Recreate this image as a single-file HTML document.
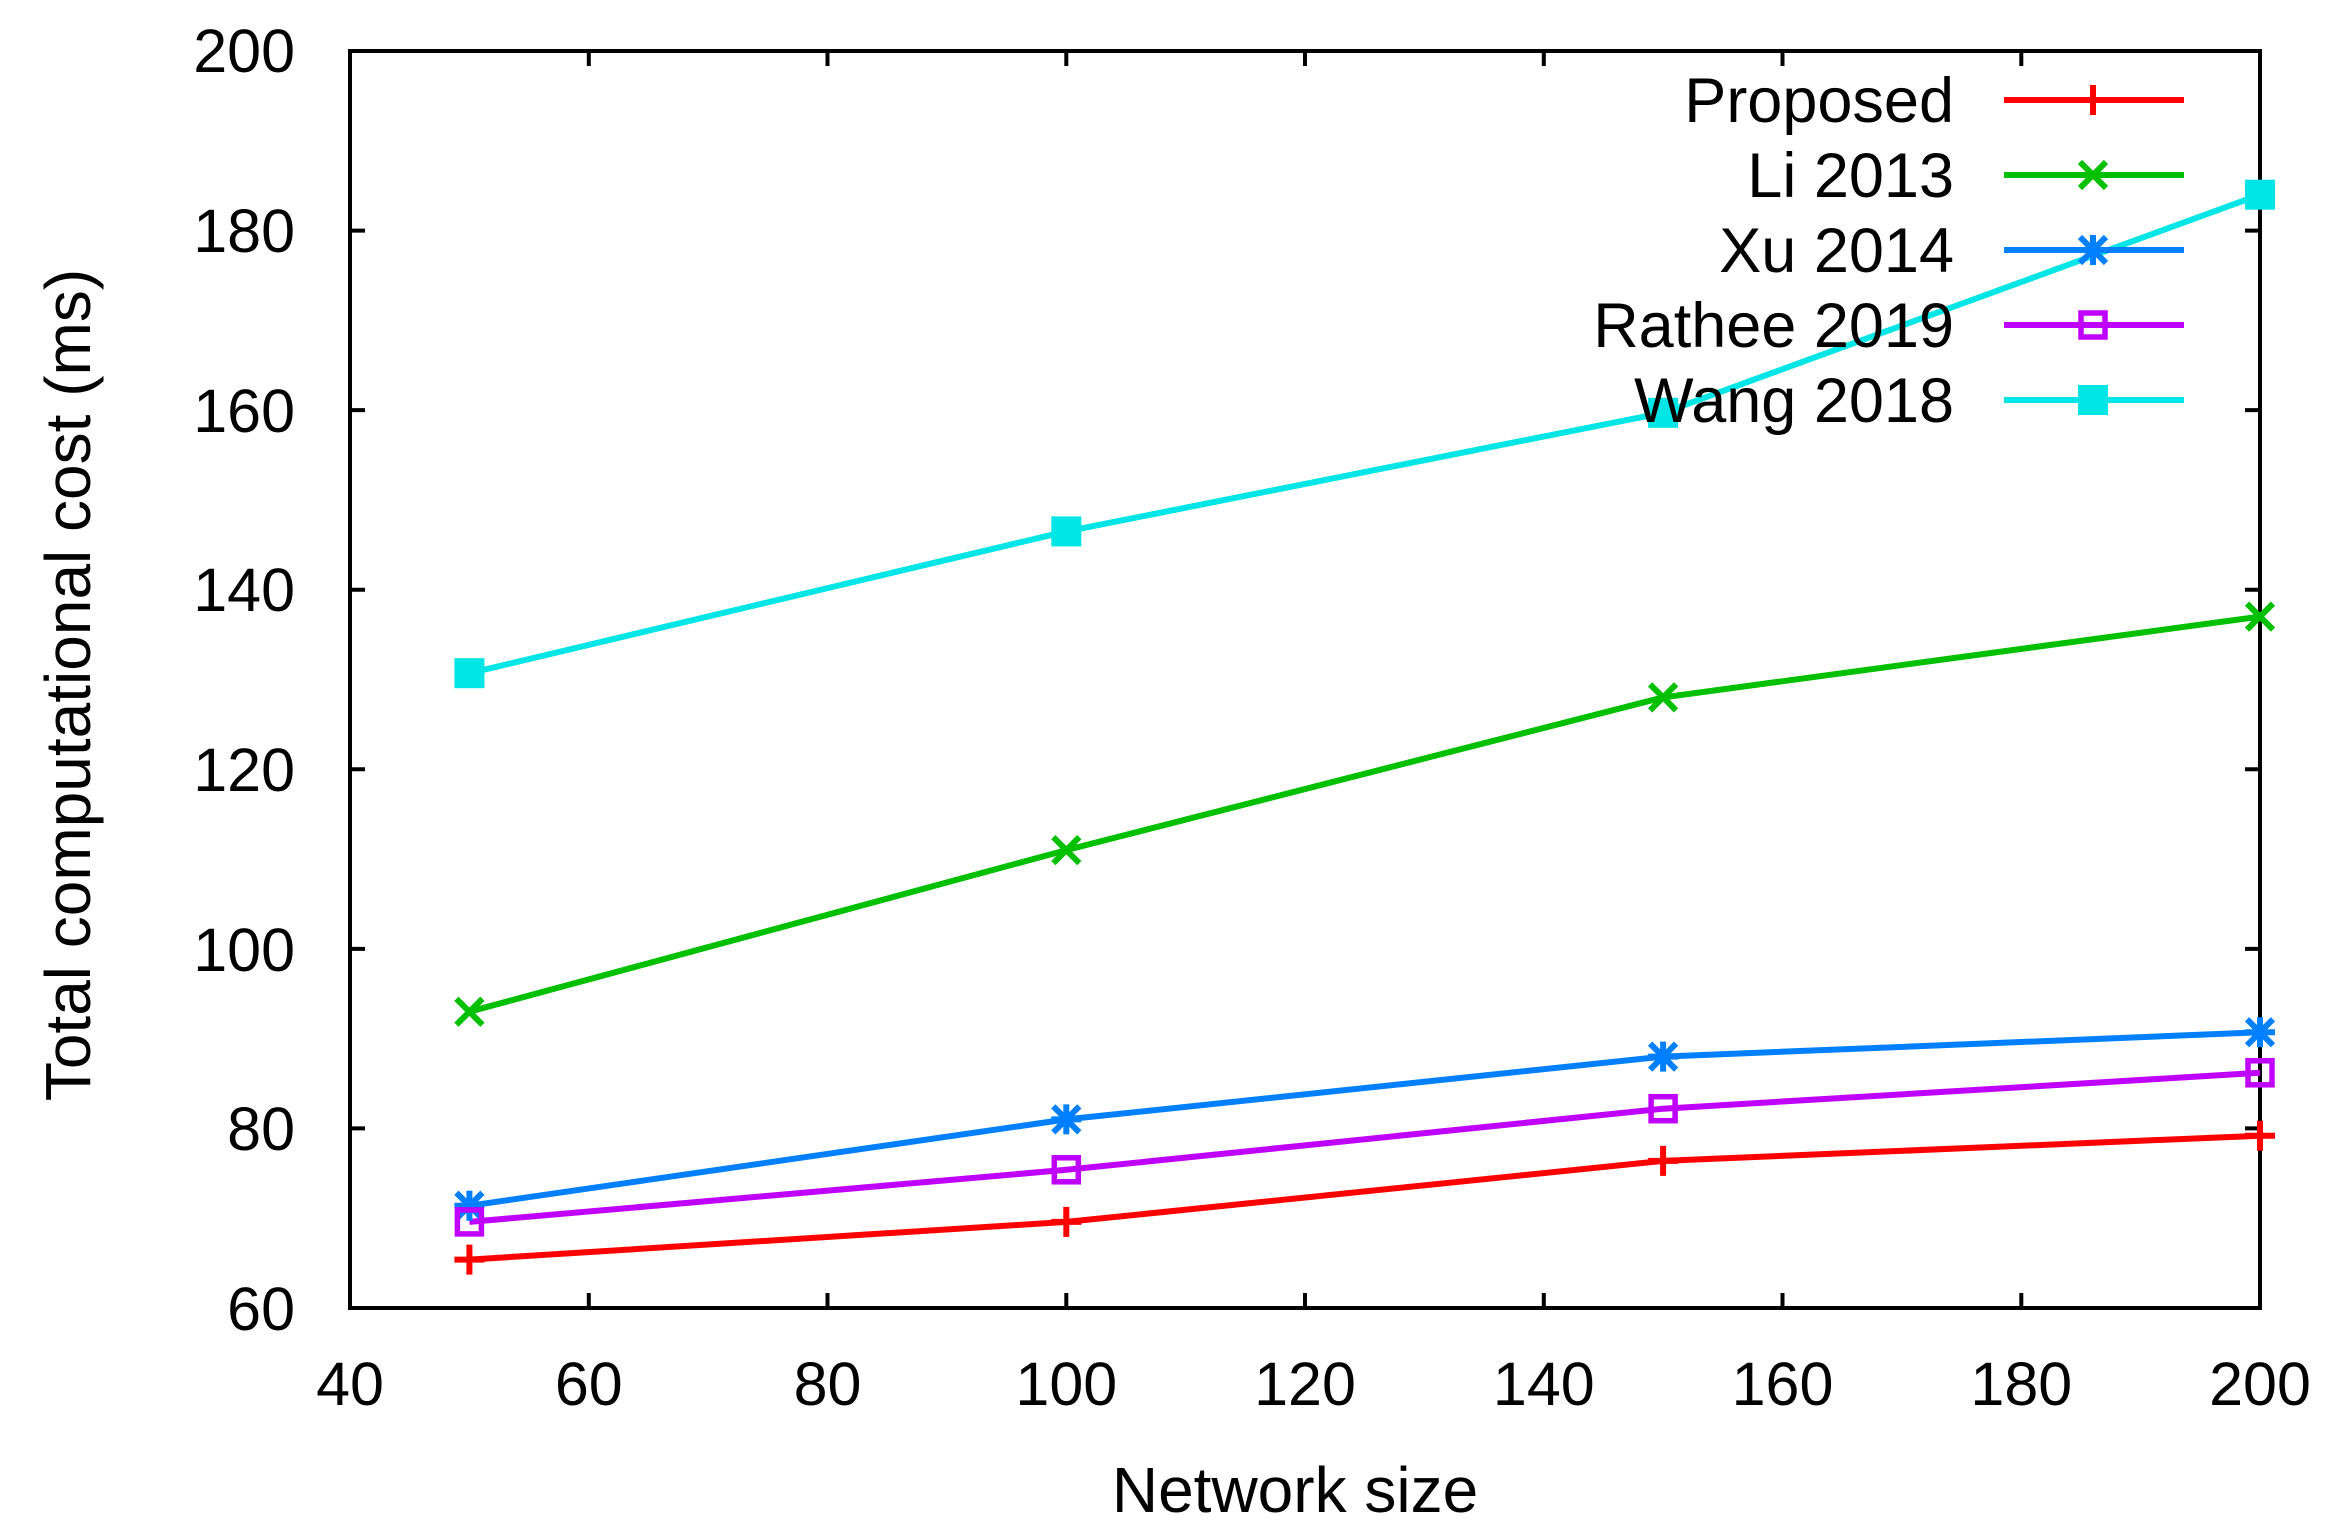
<!DOCTYPE html>
<html><head><meta charset="utf-8"><style>html,body{margin:0;padding:0;background:#fff}svg{display:block}</style></head>
<body>
<svg xmlns="http://www.w3.org/2000/svg" width="2337" height="1539" viewBox="0 0 2337 1539" font-family="Liberation Sans, sans-serif">
<rect width="2337" height="1539" fill="#fff"/>
<g stroke="#000" stroke-width="4" fill="none">
<rect x="350" y="51" width="1910" height="1257"/>
<path d="M350 230.6h15M350 410.1h15M350 589.7h15M350 769.3h15M350 948.9h15M350 1128.4h15
M2260 230.6h-15M2260 410.1h-15M2260 589.7h-15M2260 769.3h-15M2260 948.9h-15M2260 1128.4h-15
M588.8 1308v-15M827.5 1308v-15M1066.3 1308v-15M1305 1308v-15M1543.8 1308v-15M1782.5 1308v-15M2021.3 1308v-15
M588.8 51v15M827.5 51v15M1066.3 51v15M1305 51v15M1543.8 51v15M1782.5 51v15M2021.3 51v15"/>
</g>
<g font-size="61" fill="#000" text-anchor="end">
<text x="295" y="72">200</text><text x="295" y="252">180</text><text x="295" y="432">160</text>
<text x="295" y="611">140</text><text x="295" y="791">120</text><text x="295" y="971">100</text>
<text x="295" y="1150">80</text><text x="295" y="1330">60</text>
</g>
<g font-size="61" fill="#000" text-anchor="middle">
<text x="350" y="1405">40</text><text x="588.8" y="1405">60</text><text x="827.5" y="1405">80</text>
<text x="1066.3" y="1405">100</text><text x="1305" y="1405">120</text><text x="1543.8" y="1405">140</text>
<text x="1782.5" y="1405">160</text><text x="2021.3" y="1405">180</text><text x="2260" y="1405">200</text>
<text x="1295" y="1512" font-size="64">Network size</text>
<text transform="translate(90,685) rotate(-90)" font-size="64">Total computational cost (ms)</text>
</g>
<g fill="none" stroke-width="6">
<polyline stroke="#ff0000" points="469.4,1259.6 1066.3,1221.9 1663.1,1160.9 2260,1135.7"/>
<polyline stroke="#00c000" points="469.4,1011.7 1066.3,850.1 1663.1,697.4 2260,616.6"/>
<polyline stroke="#0080ff" points="469.4,1205.7 1066.3,1119.4 1663.1,1056.6 2260,1032.3"/>
<polyline stroke="#c000ff" points="469.4,1221.9 1066.3,1169.8 1663.1,1108.7 2260,1072.8"/>
<polyline stroke="#00e5e5" points="469.4,673.2 1066.3,531.4 1663.1,412.8 2260,194.7"/>
</g>
<defs>
<g id="pl"><path d="M-15 0h30M0 -15v30" stroke="#ff0000" stroke-width="6"/></g>
<g id="x"><path d="M-13 -13L13 13M-13 13L13 -13" stroke="#00c000" stroke-width="6"/></g>
<g id="st"><path d="M-13 -13L13 13M-13 13L13 -13M-15 0h30M0 -15v30" stroke="#0080ff" stroke-width="6"/></g>
<g id="sq"><rect x="-12" y="-12" width="24" height="24" fill="none" stroke="#c000ff" stroke-width="5.5"/></g>
<g id="fs"><rect x="-15" y="-15" width="30" height="30" fill="#00e5e5"/></g>
</defs>
<use href="#pl" x="469.4" y="1259.6"/><use href="#pl" x="1066.3" y="1221.9"/><use href="#pl" x="1663.1" y="1160.9"/><use href="#pl" x="2260" y="1135.7"/>
<use href="#x" x="469.4" y="1011.7"/><use href="#x" x="1066.3" y="850.1"/><use href="#x" x="1663.1" y="697.4"/><use href="#x" x="2260" y="616.6"/>
<use href="#st" x="469.4" y="1205.7"/><use href="#st" x="1066.3" y="1119.4"/><use href="#st" x="1663.1" y="1056.6"/><use href="#st" x="2260" y="1032.3"/>
<use href="#sq" x="469.4" y="1221.9"/><use href="#sq" x="1066.3" y="1169.8"/><use href="#sq" x="1663.1" y="1108.7"/><use href="#sq" x="2260" y="1072.8"/>
<use href="#fs" x="469.4" y="673.2"/><use href="#fs" x="1066.3" y="531.4"/><use href="#fs" x="1663.1" y="412.8"/><use href="#fs" x="2260" y="194.7"/>
<g font-size="63" fill="#000" text-anchor="end">
<text x="1954" y="122">Proposed</text>
<text x="1954" y="197">Li 2013</text>
<text x="1954" y="272">Xu 2014</text>
<text x="1954" y="347">Rathee 2019</text>
<text x="1954" y="422">Wang 2018</text>
</g>
<g stroke-width="6">
<path d="M2004 100H2184" stroke="#ff0000"/>
<path d="M2004 175H2184" stroke="#00c000"/>
<path d="M2004 250H2184" stroke="#0080ff"/>
<path d="M2004 325H2184" stroke="#c000ff"/>
<path d="M2004 400H2184" stroke="#00e5e5"/>
</g>
<use href="#pl" x="2093" y="100"/><use href="#x" x="2093" y="175"/><use href="#st" x="2093" y="250"/><use href="#sq" x="2093" y="325"/><use href="#fs" x="2093" y="400"/>
</svg>
</body></html>
